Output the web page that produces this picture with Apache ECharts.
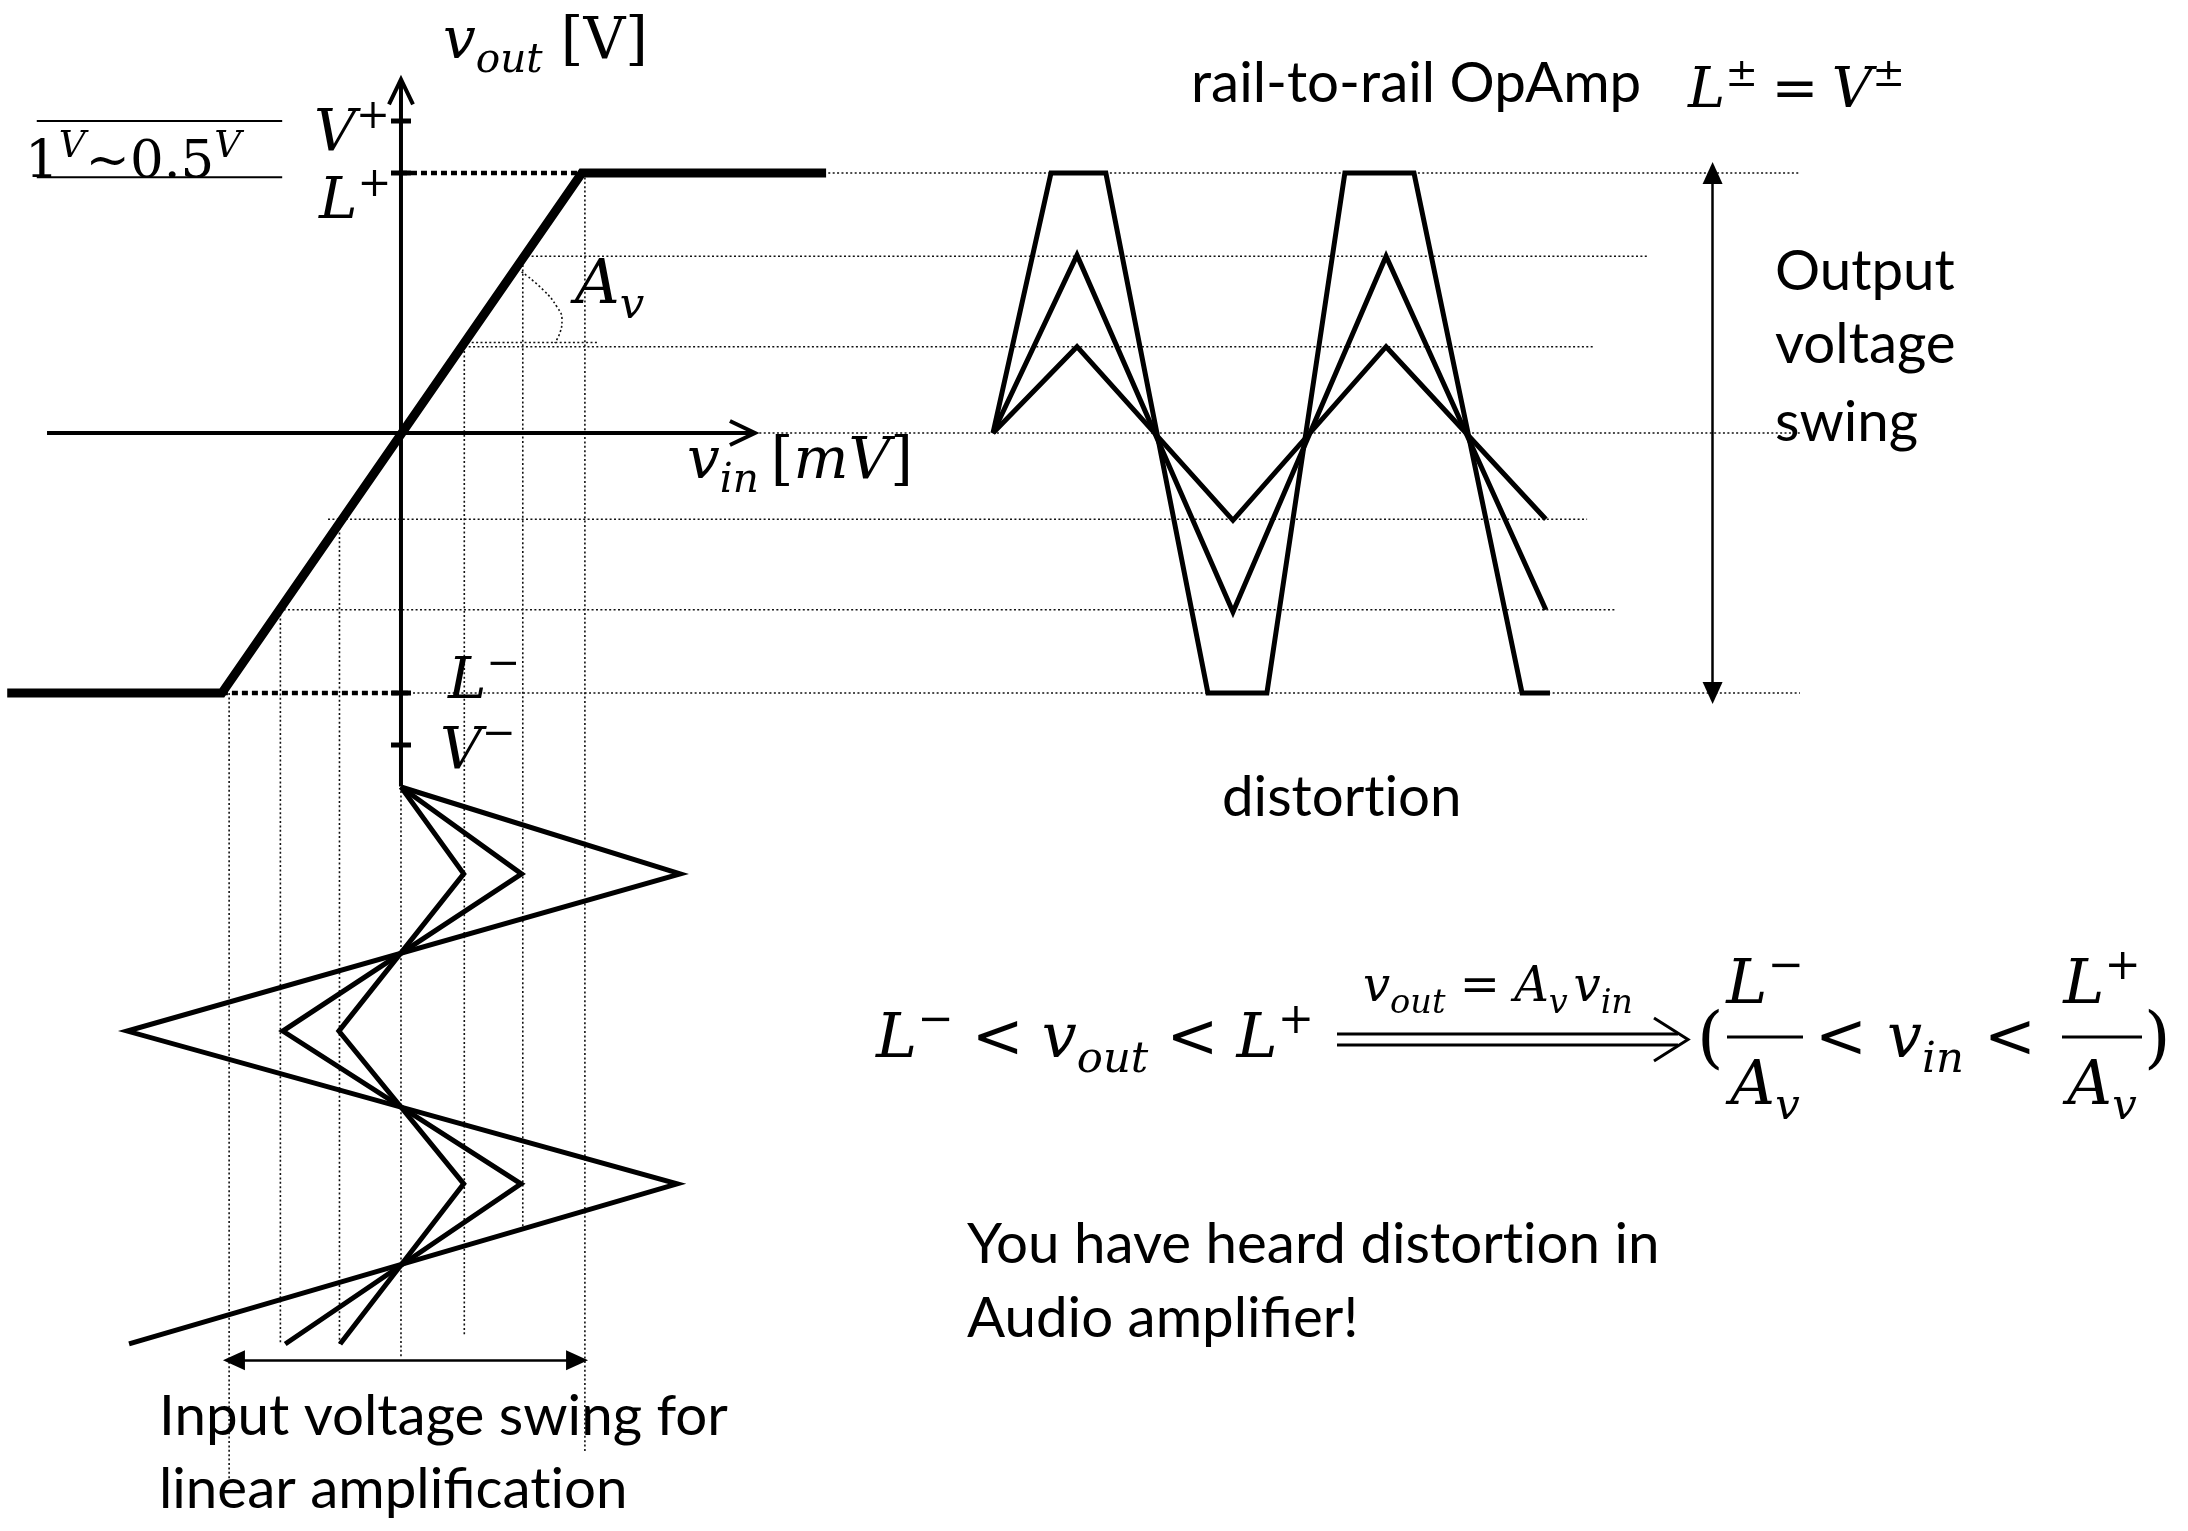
<!DOCTYPE html>
<html>
<head>
<meta charset="utf-8">
<script src="https://cdn.jsdelivr.net/npm/echarts@6/dist/echarts.min.js"></script>
<style>
  html, body { margin: 0; padding: 0; background: #ffffff; }
  #chart { width: 2188px; height: 1531px; }
</style>
</head>
<body>
<div id="chart"></div>
<script>
// ---------- values (v_in in mV, v_out in V, time in ms) ----------
const L_PLUS = 2.5, L_MINUS = -2.5, V_PLUS = 3.0, V_MINUS = -3.0;

// transfer characteristic corners
const transferVin  = [-6.53, -2.97, 3.0, 7.05];
const transferVout = [-2.5, -2.5, 2.5, 2.5];

// input triangle waves: time of start / peaks, and v_in at those times
const inputTime  = [0, 0.274, 0.77, 1.252, 1.757];
const inputSmall = [0, 1.04, -1.03, 1.04, -1.01];
const inputMid   = [0, 2.0, -1.96, 1.99, -1.92];
const inputLarge = [0, 4.63, -4.54, 4.58, -4.51];

// output waves: time of start / peaks, and v_out there
const outputTime  = [0, 0.265, 0.757, 1.24, 1.744];
const outputSmall = [0, 0.83, -0.84, 0.83, -0.83];
const outputMid   = [0, 1.71, -1.72, 1.70, -1.70];
// clipped output (large input) corners
const clippedTime = [0, 0.183, 0.356, 0.678, 0.864, 1.11, 1.328, 1.669, 1.757];
const clippedOut  = [0, 2.5, 2.5, -2.5, -2.5, 2.5, 2.5, -2.5, -2.5];

// dotted horizontal guides: v_out level, v_in where they start and end
const outLevels     = [2.5, 1.7, 0.83, 0, -0.83, -1.7, -2.5];
const outGuideStart = [3.0, 2.02, 1.05, 5.87, -1.21, -2.02, 0.2];
const outGuideEnd   = [23.2, 20.66, 19.8, 23.2, 19.67, 20.15, 23.2];
// dotted vertical guides: v_in level, v_out where they start and end
const inLevels      = [-2.85, -2.0, -1.02, 0, 1.05, 2.02, 3.05];
const inGuideTop    = [-2.5, -1.7, -0.83, -3.4, 0.83, 1.7, 2.5];
const inGuideBottom = [-10.07, -8.76, -8.76, -8.89, -8.69, -7.69, -9.80];

// slope marker for A_v
const arcVin  = [2.0, 2.36, 2.59, 2.67, 2.64, 2.55];
const arcVout = [1.55, 1.375, 1.21, 1.09, 0.97, 0.865];
const slopeBase = [[1.1, 0.87], [3.28, 0.87]];

// axis extents and the small rail-gap ruler (V+ to L+)
const VIN_AXIS = [-5.87, 5.87];
const VOUT_AXIS = [-3.4, 3.4];
const rulerLevels = [3.0, 2.46];
const rulerSpan = [-6.04, -1.97];
const railTicks = [V_PLUS, L_PLUS, L_MINUS, V_MINUS];

// swing arrows
const OUT_SWING_T = 2.27;
const IN_SWING_T = 1.808;
const IN_SWING = [-2.77, 2.92];

// ---------- layout ----------
const G_T = { left: 3, top: 69, width: 1809, height: 1424.8, x: [-6.6, 23.4], y: [-10.2, 3.5] };
const G_O = { left: 993, top: 69, width: 824.2, height: 1424.8, x: [0, 2.6], y: [-10.2, 3.5] };
const G_I = { left: 3, top: 787, width: 1809, height: 602.3, x: [-6.6, 23.4], y: [0, 1.9] };
const PX_PER_MV = G_T.width / (G_T.x[1] - G_T.x[0]);
const PX_PER_V = G_T.height / (G_T.y[1] - G_T.y[0]);

const zip = (a, b) => a.map((v, i) => [v, b[i]]);

const thin = { color: '#111', width: 1.6, type: [2, 2.4] };
const wave = { color: '#000', width: 5 };

function path(name, data, style, axis, z, extra) {
  return Object.assign({
    name: name, type: 'line', xAxisIndex: axis, yAxisIndex: axis,
    data: data, symbol: 'none', showSymbol: false, silent: true, animation: false,
    clip: false, z: z || 2, emphasis: { disabled: true },
    lineStyle: Object.assign({ join: 'miter', cap: 'butt', miterLimit: 10 }, style)
  }, extra || {});
}

const series = [];
// guides
outLevels.forEach((lv, i) => series.push(path('out guide', [[outGuideStart[i], lv], [outGuideEnd[i], lv]], thin, 0, 1)));
inLevels.forEach((lv, i) => series.push(path('in guide', [[lv, inGuideTop[i]], [lv, inGuideBottom[i]]], thin, 0, 1)));
series.push(path('slope arc', zip(arcVin, arcVout), thin, 0, 1, { smooth: 0.5 }));
series.push(path('slope base', slopeBase, thin, 0, 1));
// square-dotted rail markers from the axis to the knees
const railDots = { color: '#000', width: 4.5, type: [6, 4] };
series.push(path('L+ level', [[0, L_PLUS], [transferVin[2], L_PLUS]], railDots, 0, 3));
series.push(path('L- level', [[transferVin[1], L_MINUS], [0.15, L_MINUS]], railDots, 0, 3));
// rail-gap ruler
rulerLevels.forEach(lv => series.push(path('ruler', [[rulerSpan[0], lv], [rulerSpan[1], lv]], { color: '#000', width: 2 }, 0, 3)));
// axes
const axisStyle = { color: '#000', width: 4 };
series.push(path('v_in axis', [[VIN_AXIS[0], 0], [VIN_AXIS[1], 0]], axisStyle, 0, 5));
series.push(path('v_out axis', [[0, VOUT_AXIS[0]], [0, VOUT_AXIS[1]]], axisStyle, 0, 5));
// open arrow heads (25 px long, 12 px half width)
const hl = 25, hw = 12;
series.push(path('v_out head', [[-hw / PX_PER_MV, VOUT_AXIS[1] - hl / PX_PER_V], [0, VOUT_AXIS[1]], [hw / PX_PER_MV, VOUT_AXIS[1] - hl / PX_PER_V]], axisStyle, 0, 5));
series.push(path('v_in head', [[VIN_AXIS[1] - hl / PX_PER_MV, hw / PX_PER_V], [VIN_AXIS[1], 0], [VIN_AXIS[1] - hl / PX_PER_MV, -hw / PX_PER_V]], axisStyle, 0, 5));
// rail ticks on the v_out axis
railTicks.forEach(lv => series.push(path('tick', [[-10 / PX_PER_MV, lv], [10 / PX_PER_MV, lv]], { color: '#000', width: 5 }, 0, 5)));
// transfer curve
series.push(path('transfer', zip(transferVin, transferVout), { color: '#000', width: 9 }, 0, 8));

// output waves
const swingLine = (data) => ({
  silent: true, animation: false, symbol: ['triangle', 'triangle'], symbolSize: [20, 22],
  label: { show: false }, emphasis: { disabled: true },
  lineStyle: { color: '#000', width: 2.5, type: 'solid' }, data: [data]
});
series.push(path('out large', zip(clippedTime, clippedOut), wave, 1, 6, {
  markLine: swingLine([{ coord: [OUT_SWING_T, L_PLUS] }, { coord: [OUT_SWING_T, L_MINUS] }])
}));
series.push(path('out mid', zip(outputTime, outputMid), wave, 1, 6));
series.push(path('out small', zip(outputTime, outputSmall), wave, 1, 6));

// input waves
series.push(path('in large', zip(inputLarge, inputTime), wave, 2, 6, {
  markLine: swingLine([{ coord: [IN_SWING[0], IN_SWING_T] }, { coord: [IN_SWING[1], IN_SWING_T] }])
}));
series.push(path('in mid', zip(inputMid, inputTime), wave, 2, 6));
series.push(path('in small', zip(inputSmall, inputTime), wave, 2, 6));

// ---------- text ----------
const SERIF = '"DejaVu Serif", "Liberation Serif", serif';
const SANS = 'Lato, "Open Sans", "Noto Sans", sans-serif';
const mctx = document.createElement('canvas').getContext('2d');
function fontStr(size, italic, fam) { return (italic ? 'italic ' : '') + size.toFixed(2) + 'px ' + fam; }
function baseOffset(f) {
  mctx.font = f; mctx.textBaseline = 'middle';
  return mctx.measureText('H').actualBoundingBoxDescent;
}
function measure(str, f) { mctx.font = f; mctx.textBaseline = 'middle'; return mctx.measureText(str).width; }
function textEl(str, x, base, f) {
  return { type: 'text', x: x, y: base - baseOffset(f), z: 100, silent: true,
    style: { text: str, font: f, fill: '#000', align: 'left', verticalAlign: 'middle' } };
}
// a math piece: i = italic, r = roman, sub = italic subscript, sup = roman superscript, supi = italic superscript
function pieceSpec(kind, size, base) {
  if (kind === 'sub') return { f: fontStr(size * 0.7, true, SERIF), b: base + 0.24 * size };
  if (kind === 'sup') return { f: fontStr(size * 0.7, false, SERIF), b: base - 0.38 * size };
  if (kind === 'supi') return { f: fontStr(size * 0.7, true, SERIF), b: base - 0.38 * size };
  return { f: fontStr(size, kind === 'i', SERIF), b: base };
}
// lay out pieces left to right; 'gap' entries share whatever room is left up to xEnd
function mathFlow(x0, base, size, pieces, xEnd) {
  const items = pieces.map(p => {
    if (p[1] === 'gap') return { gap: p[2] || 1 };
    const s = pieceSpec(p[1], size, base);
    return { str: p[0], f: s.f, b: s.b, w: measure(p[0], s.f), kern: p[2] || 0 };
  });
  const fixed = items.reduce((a, it) => a + (it.gap ? 0 : it.w + it.kern * size), 0);
  const gw = items.reduce((a, it) => a + (it.gap || 0), 0);
  const unit = (xEnd != null && gw) ? Math.max(0, (xEnd - x0 - fixed) / gw) : 0.2 * size;
  const els = [];
  let x = x0;
  items.forEach(it => {
    if (it.gap) { x += it.gap * unit; return; }
    x += it.kern * size;
    els.push(textEl(it.str, x, it.b, it.f));
    x += it.w;
  });
  return { els: els, width: x - x0 };
}
function centered(cx, base, size, pieces) {
  const w = mathFlow(0, base, size, pieces).width;
  return mathFlow(cx - w / 2, base, size, pieces).els;
}

const graphics = [];
const add = arr => arr.forEach(e => graphics.push(e));
const MINUS = '\u2212', PM = '\u00b1';
add(mathFlow(443, 58, 58, [['v', 'i'], ['out', 'sub'], ['', 'gap'], ['[V]', 'r']], 648).els);
add(mathFlow(687, 478, 58, [['v', 'i'], ['in', 'sub'], ['', 'gap'], ['[', 'r'], ['mV', 'i'], [']', 'r']], 913).els);
add(mathFlow(314, 150, 58, [['V', 'i'], ['+', 'sup']]).els);
add(mathFlow(319, 218, 58, [['L', 'i'], ['+', 'sup']]).els);
add(mathFlow(448, 698, 58, [['L', 'i'], [MINUS, 'sup']]).els);
add(mathFlow(440, 768, 58, [['V', 'i'], [MINUS, 'sup']]).els);
add(mathFlow(575, 303, 62, [['A', 'i'], ['v', 'sub']]).els);
add(mathFlow(25, 177, 53, [['1', 'r'], ['V', 'supi'], ['', 'gap'], ['~0.5', 'r'], ['V', 'supi']], 216).els);
add(mathFlow(1688, 107, 56, [['L', 'i'], [PM, 'sup'], ['', 'gap'], ['=', 'r'], ['', 'gap'], ['V', 'i'], [PM, 'sup']], 1905).els);
// L- < v_out < L+  ==>  (L-/Av < v_in < L+/Av)
add(mathFlow(876, 1057, 62, [['L', 'i'], [MINUS, 'sup'], ['', 'gap'], ['<', 'r'], ['', 'gap'], ['v', 'i'], ['out', 'sub'],
  ['', 'gap'], ['<', 'r'], ['', 'gap'], ['L', 'i'], ['+', 'sup']], 1314).els);
add(mathFlow(1363, 1001, 48, [['v', 'i'], ['out', 'sub'], ['', 'gap'], ['=', 'r'], ['', 'gap'], ['A', 'i'], ['v', 'sub'],
  ['', 'gap', 0.4], ['v', 'i'], ['in', 'sub']], 1633).els);
add(mathFlow(1697, 1060, 68, [['(', 'r']]).els);
add(mathFlow(2144, 1060, 68, [[')', 'r']]).els);
add(mathFlow(1815, 1057, 62, [['<', 'r'], ['', 'gap'], ['v', 'i'], ['in', 'sub'], ['', 'gap'], ['<', 'r']], 2036).els);
add(centered(1765, 1003, 62, [['L', 'i'], [MINUS, 'sup']]));
add(centered(2102, 1003, 62, [['L', 'i'], ['+', 'sup']]));
add(centered(1765, 1104, 62, [['A', 'i'], ['v', 'sub']]));
add(centered(2102, 1104, 62, [['A', 'i'], ['v', 'sub']]));
// fraction bars and the implication arrow
const stroke = (shape, w) => ({ type: shape.points ? 'polyline' : 'line', shape: shape, z: 100, silent: true,
  style: { stroke: '#000', lineWidth: w, fill: null, lineJoin: 'miter' } });
graphics.push(stroke({ x1: 1727, y1: 1037, x2: 1803, y2: 1037 }, 3));
graphics.push(stroke({ x1: 2062, y1: 1037, x2: 2142, y2: 1037 }, 3));
graphics.push(stroke({ x1: 1337, y1: 1034, x2: 1678, y2: 1034 }, 3));
graphics.push(stroke({ x1: 1337, y1: 1045, x2: 1678, y2: 1045 }, 3));
graphics.push(stroke({ points: [[1654, 1018], [1688, 1039.5], [1654, 1061]] }, 3));

// plain notes, one common size chosen so the lines keep their widths
const notes = [
  ['rail-to-rail OpAmp', 1191, 102, 436],
  ['Output', 1775, 290, 173],
  ['voltage', 1775, 363, 176],
  ['swing', 1775, 441, 155],
  ['distortion', 1222, 816, 239],
  ['You have heard distortion in', 967, 1263, 695],
  ['Audio amplifier!', 967, 1337, 396],
  ['Input voltage swing for', 159, 1435, 564],
  ['linear amplification', 159, 1508, 473]
];
// keep "t" and "i" as separate glyphs
const plain = s => s.replace(/ti/g, 't\u200Ci');
const fits = notes.map(n => 100 * n[3] / measure(plain(n[0]), fontStr(100, false, SANS)));
const sansSize = fits.reduce((a, b) => a + b, 0) / fits.length;
notes.forEach(n => graphics.push(textEl(plain(n[0]), n[1], n[2], fontStr(sansSize, false, SANS))));

// ---------- chart ----------
const chart = echarts.init(document.getElementById('chart'), null, { renderer: 'canvas', width: 2188, height: 1531 });
const grid = g => ({ left: g.left, top: g.top, width: g.width, height: g.height, show: false });
const ax = (i, range, inverse) => ({ gridIndex: i, type: 'value', min: range[0], max: range[1], inverse: !!inverse, show: false });
chart.setOption({
  backgroundColor: '#ffffff',
  animation: false,
  grid: [grid(G_T), grid(G_O), grid(G_I)],
  xAxis: [ax(0, G_T.x), ax(1, G_O.x), ax(2, G_I.x)],
  yAxis: [ax(0, G_T.y), ax(1, G_O.y), ax(2, G_I.y, true)],
  series: series,
  graphic: { elements: graphics }
});
</script>
</body>
</html>
